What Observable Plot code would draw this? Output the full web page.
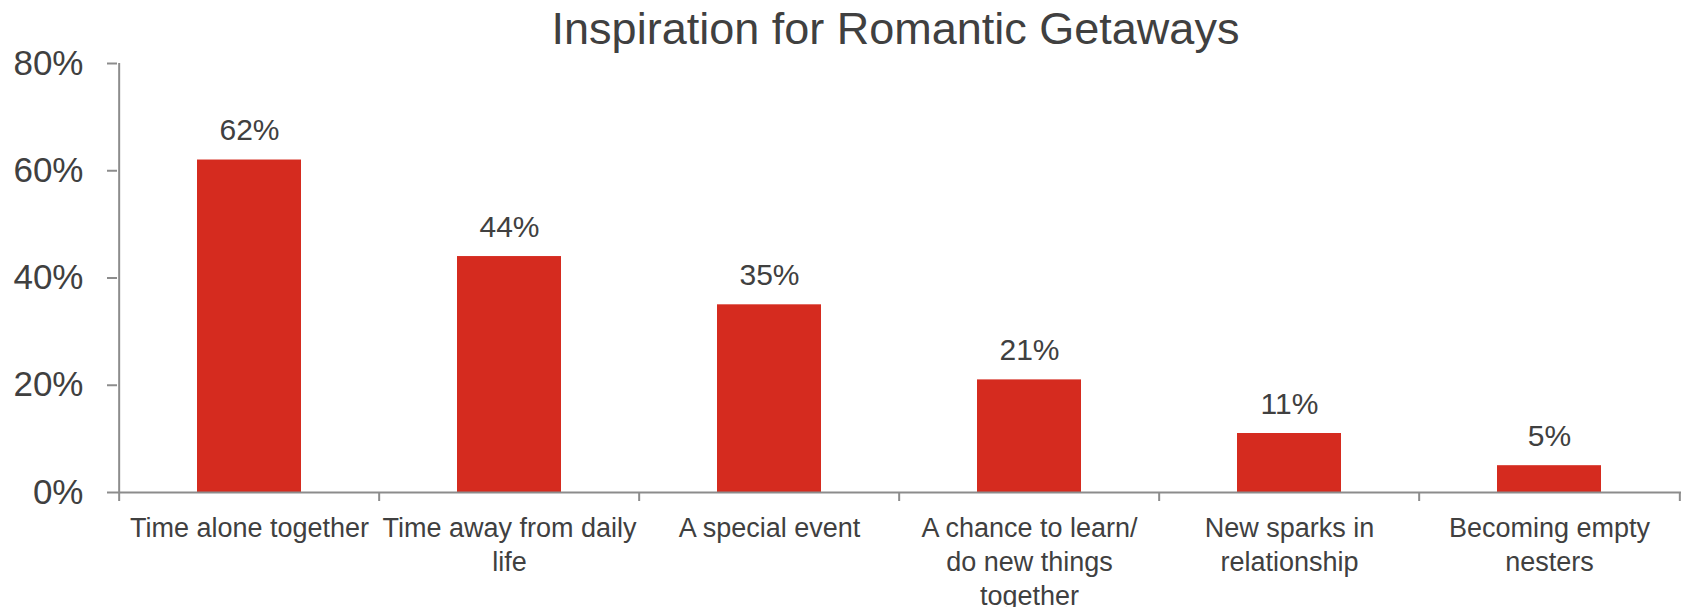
<!DOCTYPE html>
<html><head><meta charset="utf-8">
<script src="https://cdn.jsdelivr.net/npm/d3@7"></script>
<script src="https://cdn.jsdelivr.net/npm/@observablehq/plot@0.6"></script>
<style>
body{margin:0;background:#fff;font-family:"Liberation Sans",Arial,sans-serif;}
#title{position:relative;top:9px;height:40px;line-height:40px;font-size:45px;color:#404040;text-align:center;padding:0 6px 0 110px;white-space:nowrap;}
#chart svg{overflow:visible;display:block;}
</style></head><body>
<div id="title">Inspiration for Romantic Getaways</div>
<div id="chart"></div>
<script>
const categories = ["Time alone together", "Time away from daily\nlife", "A special event", "A chance to learn/\ndo new things\ntogether", "New sparks in\nrelationship", "Becoming empty\nnesters"];
const values = [62, 44, 35, 21, 11, 5];
const yTicks = [0, 20, 40, 60, 80];

const data = categories.map((c, i) => ({category: c, value: values[i]}));
const W = 1687, H = 567, mL = 117, mR = 6, mT = 23, mB = 115;
const step = (W - mL - mR) / categories.length;
const frameH = H - mT - mB;
const axisColor = "#8c8c8c", textColor = "#404040";

const plot = Plot.plot({
  width: W, height: H,
  marginLeft: mL, marginRight: mR, marginTop: mT, marginBottom: mB,
  style: {fontFamily: '"Liberation Sans", Arial, sans-serif', color: textColor, background: "#fff", overflow: "visible"},
  x: {domain: categories, paddingInner: 0.6, paddingOuter: 0.3, label: null},
  y: {domain: [0, 80], label: null},
  marks: [
    Plot.barY(data, {x: "category", y: "value", fill: "#d52b1f"}),
    Plot.text(data, {x: "category", y: "value", text: d => d.value + "%", lineAnchor: "bottom", dy: -20, fontSize: 30, fill: textColor}),
    Plot.ruleY([0], {stroke: axisColor, strokeWidth: 2}),
    Plot.ruleX([categories[0]], {x: d => d, dx: -step / 2, y1: 0, y2: 80, stroke: axisColor, strokeWidth: 2}),
    Plot.ruleX(categories.slice(1), {x: d => d, dx: -step / 2, insetTop: frameH, insetBottom: -9, stroke: axisColor, strokeWidth: 2}),
    Plot.ruleX([categories[categories.length - 1]], {x: d => d, dx: step / 2, insetTop: frameH, insetBottom: -9, stroke: axisColor, strokeWidth: 2}),
    Plot.ruleX([categories[0]], {x: d => d, dx: -step / 2, insetTop: frameH, insetBottom: -9, stroke: axisColor, strokeWidth: 2}),
    Plot.axisY({ticks: yTicks, tickFormat: d => d + "%", tickSize: 10, tickPadding: 24, fontSize: 35, fill: textColor, stroke: axisColor, strokeWidth: 2, label: null}),
    Plot.axisX({tickSize: 0, tickPadding: 20, fontSize: 27, lineHeight: 1.26, fill: textColor, label: null})
  ]
});
document.getElementById("chart").appendChild(plot);
</script>
</body></html>
